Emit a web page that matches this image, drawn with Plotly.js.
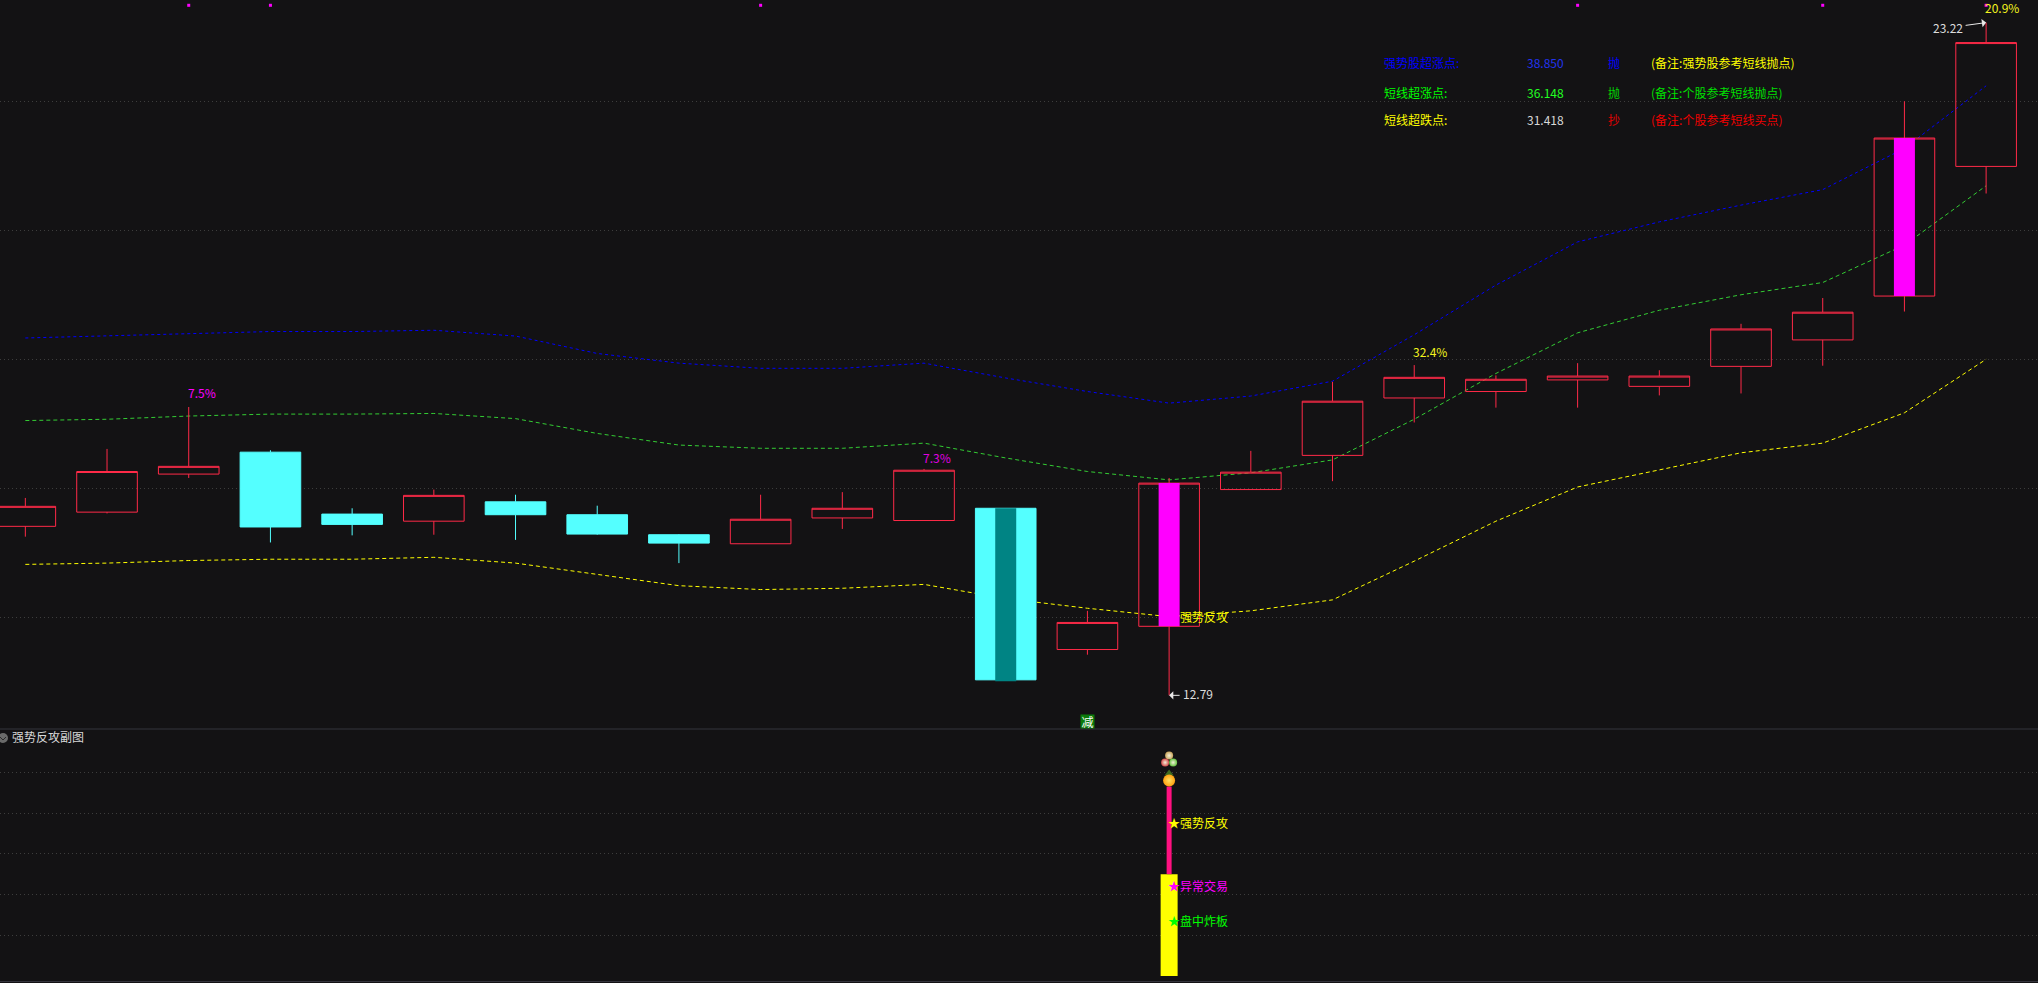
<!DOCTYPE html>
<html>
<head>
<meta charset="utf-8">
<script src="https://cdn.plot.ly/plotly-3.0.1.min.js"></script>
<style>html,body{margin:0;padding:0;background:#131214;overflow:hidden}#chart{width:2038px;height:983px}</style>
</head>
<body>
<div id="chart"></div>
<script>
// ---- candles: index along the time axis and OHLC
const days  = [0,1,2,3,4,5,6,7,8,9,10,11,12,13,14,15,16,17,18,19,20,21,22,23,24];
const opens = [15.41,15.63,16.22,16.56,15.60,15.49,15.79,15.59,15.28,15.14,15.54,15.50,15.69,13.50,13.86,15.98,16.51,17.40,17.50,17.68,17.58,17.89,18.30,18.98,20.99];
const highs = [15.85,16.61,17.26,16.59,15.69,15.98,15.90,15.73,15.29,15.90,15.94,16.30,15.69,14.10,16.16,16.58,17.65,17.91,17.75,17.94,17.83,18.55,18.95,22.00,23.22];
const lows  = [15.25,15.61,16.16,15.16,15.27,15.28,15.20,15.28,14.84,15.14,15.37,15.50,13.03,13.42,12.79,15.98,16.11,17.02,17.25,17.25,17.44,17.47,17.90,18.74,20.57];
const closes= [15.72,16.26,16.34,15.40,15.44,15.89,15.59,15.29,15.15,15.52,15.69,16.28,13.03,13.92,16.08,16.25,17.35,17.72,17.69,17.74,17.74,18.47,18.73,21.43,22.91];

// ---- band lines
const bandStrong = [18.33,18.36,18.40,18.43,18.43,18.45,18.36,18.09,17.94,17.86,17.86,17.94,17.71,17.50,17.32,17.43,17.66,18.38,19.15,19.82,20.13,20.39,20.63,21.27,22.24];
const bandHigh   = [17.05,17.07,17.12,17.15,17.15,17.16,17.08,16.85,16.67,16.62,16.62,16.70,16.47,16.26,16.13,16.24,16.44,17.07,17.78,18.41,18.76,19.00,19.19,19.77,20.69];
const bandLow    = [14.82,14.84,14.88,14.90,14.90,14.93,14.84,14.66,14.49,14.43,14.45,14.51,14.29,14.14,14.01,14.10,14.27,14.87,15.49,16.02,16.28,16.55,16.70,17.17,18.00];

// ---- highlighted bodies
const magentaDays = [14,23];
const magentaTop  = [16.08,21.43];
const magentaBase = [13.86,18.98];
const tealDays = [12];
const tealTop  = [15.69];
const tealBase = [13.01];

// ---- top markers
const markDays = [2,3,9,19,22,24];
const markLevel = [23.488,23.488,23.488,23.488,23.488,23.488];

// ---- sub-panel
const subDay = [14];
const yellowHeight = [2.5];
const yellowBase = [0];
const pinkHeight = [2.15];
const pinkBase = [2.5];
const berryX = [14,13.951,14.049];
const berryY = [5.41,5.24,5.24];
const berryColors = ['#c8a55c','#d24a4a','#63c23f'];
const leafX = [14];
const leafY = [4.97];
const fruitX = [14];
const fruitY = [4.80];

// ---- axis grid
const priceGrid = [14,16,18,20,22];
const subGrid = [1,2,3,4,5];

// ---- text
const pctLabels = ['7.5%','7.3%','32.4%','20.9%'];
const pctDays = [2,11,17,24];
const pctLevels = [17.49,16.47,18.12,23.46];
const pctColors = ['#ff00ff','#e000e0','#f4f41e','#f4f41e'];

const tableRows = [
  ['强势股超涨点:','38.850','抛','(备注:强势股参考短线抛点)'],
  ['短线超涨点:','36.148','抛','(备注:个股参考短线抛点)'],
  ['短线超跌点:','31.418','抄','(备注:个股参考短线买点)']
];
const tableColors = [
  ['#0000ff','#2233ee','#0000ff','#ffff00'],
  ['#00ff00','#22ff22','#00d800','#00e000'],
  ['#ffff00','#d8d8d8','#e00000','#f00000']
];
const subLabels = ['★强势反攻','★异常交易','★盘中炸板'];
const subLevels = [3.71,2.17,1.31];
const subColors = ['#ffff00','#ff00ff','#00ff00'];

const W = 2038, H = 983;
const FONT = '"Noto Sans CJK SC","Noto Sans",sans-serif';
const pxX = x => x / W;
const pxY = y => 1 - y / H;
const priceRange = [12.268, 23.570];

const traces = [
  {type:'scatter',mode:'lines',x:days,y:bandStrong,xaxis:'x',yaxis:'y',line:{color:'#0000ff',width:1,dash:'3px,3px'},hoverinfo:'skip'},
  {type:'scatter',mode:'lines',x:days,y:bandHigh,xaxis:'x',yaxis:'y',line:{color:'#33cc33',width:1,dash:'4px,3px'},hoverinfo:'skip'},
  {type:'scatter',mode:'lines',x:days,y:bandLow,xaxis:'x',yaxis:'y',line:{color:'#ffff00',width:1,dash:'4px,3px'},hoverinfo:'skip'},
  {type:'candlestick',x:days,open:opens,high:highs,low:lows,close:closes,xaxis:'x',yaxis:'y3',whiskerwidth:0,
    increasing:{line:{color:'#ff2a48',width:1},fillcolor:'rgba(0,0,0,0)'},
    decreasing:{line:{color:'#54ffff',width:1},fillcolor:'#54ffff'},hoverinfo:'skip'},
  {type:'bar',x:magentaDays,y:magentaTop.map((v,i)=>v-magentaBase[i]),base:magentaBase,width:0.257,xaxis:'x',yaxis:'y4',marker:{color:'#ff00ff',line:{width:0}},hoverinfo:'skip'},
  {type:'bar',x:tealDays,y:tealTop.map((v,i)=>v-tealBase[i]),base:tealBase,width:0.257,xaxis:'x',yaxis:'y4',marker:{color:'#008484',line:{width:0}},hoverinfo:'skip'},
  {type:'scatter',mode:'markers',x:markDays,y:markLevel,xaxis:'x',yaxis:'y4',marker:{symbol:'square',size:3,color:'#ff00ff'},hoverinfo:'skip'},
  {type:'bar',x:subDay,y:yellowHeight,base:yellowBase,width:0.208,xaxis:'x',yaxis:'y2',marker:{color:'#ffff00',line:{width:0}},hoverinfo:'skip'},
  {type:'bar',x:subDay,y:pinkHeight,base:pinkBase,width:0.0612,xaxis:'x',yaxis:'y2',marker:{color:'#ff1080',line:{width:0}},hoverinfo:'skip'},
  {type:'scatter',mode:'markers',x:berryX,y:berryY,xaxis:'x',yaxis:'y2',marker:{size:8,opacity:1,color:berryColors,gradient:{type:'radial',color:'#f4f0d8'},line:{width:0}},hoverinfo:'skip'},
  {type:'scatter',mode:'markers',x:leafX,y:leafY,xaxis:'x',yaxis:'y2',marker:{size:8,opacity:1,symbol:'triangle-up',color:'#3f6b1f',line:{width:0}},hoverinfo:'skip'},
  {type:'scatter',mode:'markers',x:fruitX,y:fruitY,xaxis:'x',yaxis:'y2',marker:{size:12,opacity:1,color:'#ffa010',gradient:{type:'radial',color:'#ffe060'},line:{width:0}},hoverinfo:'skip'}
];

const annotations = [];
function pxText(text,x,y,color,dy){
  annotations.push({xref:'paper',yref:'paper',x:pxX(x),y:pxY(y),text:text,showarrow:false,
    xanchor:'left',yanchor:'middle',borderpad:0,xshift:-1.5,yshift:dy||0,font:{family:FONT,size:12,color:color}});
}
const tableX = [1384.5,1527,1608.5,1651];
const tableY = [63,92,120.7];
tableRows.forEach((row,r)=>row.forEach((t,c)=>pxText(t,tableX[c],tableY[r],tableColors[r][c],r===2?1:0)));

pctLabels.forEach((t,i)=>annotations.push({xref:'x',yref:'y',x:pctDays[i],y:pctLevels[i],text:t,showarrow:false,
  xanchor:'left',yanchor:'middle',borderpad:0,xshift:-2,font:{family:FONT,size:12,color:pctColors[i]}}));

// price callouts: the label and its arrow are separate so the arrow keeps its own slope
annotations.push({xref:'x',yref:'y',x:24,y:23.22,text:'',showarrow:true,arrowhead:1,arrowsize:1.4,arrowwidth:1,arrowcolor:'#e8e8e8',ax:-22,ay:3});
annotations.push({xref:'x',yref:'y',x:24,y:23.22,text:'23.22',showarrow:false,xanchor:'center',yanchor:'middle',xshift:-38,yshift:-5,
  font:{family:FONT,size:12,color:'#dcdcdc'},borderpad:0});
annotations.push({xref:'x',yref:'y',x:14,y:12.79,text:'',showarrow:true,arrowhead:1,arrowsize:1.4,arrowwidth:1,arrowcolor:'#e8e8e8',ax:12,ay:0});
annotations.push({xref:'x',yref:'y',x:14,y:12.79,text:'12.79',showarrow:false,xanchor:'center',yanchor:'middle',xshift:29,yshift:1.5,
  font:{family:FONT,size:12,color:'#dcdcdc'},borderpad:0});

pxText('强势反攻',1180,618.7,'#ffff00',2);
annotations.push({xref:'x',yref:'paper',x:13,y:pxY(721.5),text:'减',showarrow:false,xanchor:'center',yanchor:'middle',width:13,height:13,
  bgcolor:'#0a7a0a',borderpad:0,font:{family:FONT,size:12,color:'#ffffff'}});
pxText('强势反攻副图',12,737.7,'#d8d8d8',1);

subLabels.forEach((t,i)=>annotations.push({xref:'x',yref:'y2',x:14,y:subLevels[i],text:t,showarrow:false,
  xanchor:'left',yanchor:'middle',borderpad:0,xshift:-2,yshift:2,font:{family:FONT,size:12,color:subColors[i]}}));

const grid = {showgrid:true,gridcolor:'#3d3d3d',griddash:'1px,3px',gridwidth:1,zeroline:false,showline:false,showticklabels:false,ticks:''};

const layout = {
  width:W,height:H,margin:{l:0,r:0,t:0,b:0,pad:0},
  paper_bgcolor:'#131214',plot_bgcolor:'#131214',
  showlegend:false,barmode:'overlay',boxgap:0.258,boxgroupgap:0,boxmode:'overlay',
  xaxis:{range:[-0.31,24.635],domain:[0,1],anchor:'y',visible:false,rangeslider:{visible:false},fixedrange:true},
  yaxis:Object.assign({},grid,{domain:[254/983,1],range:priceRange,tickmode:'array',tickvals:priceGrid,fixedrange:true}),
  yaxis2:Object.assign({},grid,{domain:[1/983,253/983],range:[-0.146,6.038],tickmode:'array',tickvals:subGrid,anchor:'x',fixedrange:true}),
  yaxis3:{overlaying:'y',range:priceRange,visible:false,fixedrange:true},
  yaxis4:{overlaying:'y',range:priceRange,visible:false,fixedrange:true},
  annotations:annotations,
  shapes:[
    {type:'line',xref:'paper',yref:'paper',x0:0,x1:1,y0:pxY(729),y1:pxY(729),line:{color:'#34343c',width:1}},
    {type:'line',xref:'paper',yref:'paper',x0:0,x1:1,y0:pxY(981.5),y1:pxY(981.5),line:{color:'#34343c',width:1}},
    {type:'circle',xref:'paper',yref:'paper',x0:pxX(-2),x1:pxX(8),y0:pxY(743),y1:pxY(733),fillcolor:'#6a6a6a',line:{width:0}},
    {type:'path',xref:'paper',yref:'paper',path:`M ${pxX(0)} ${pxY(737)} L ${pxX(3)} ${pxY(740)} L ${pxX(6)} ${pxY(737)}`,line:{color:'#2a2a2a',width:1}}
  ]
};
Plotly.newPlot('chart',traces,layout,{staticPlot:true,displayModeBar:false});
</script>
</body>
</html>
